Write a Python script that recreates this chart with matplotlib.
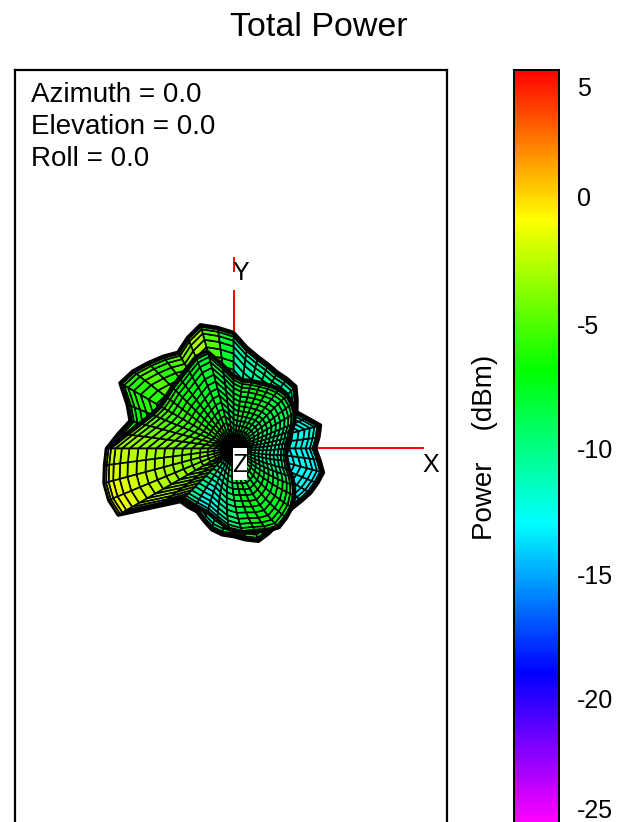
import numpy as np
import matplotlib
matplotlib.use("Agg")
import matplotlib.pyplot as plt
from matplotlib.collections import PolyCollection
from matplotlib.colors import LinearSegmentedColormap, Normalize
from matplotlib.patches import Rectangle

plt.rcParams['font.family'] = ['Liberation Sans', 'DejaVu Sans']

W, H = 617, 822
TITLE = "Total Power"
ANNOT = ["Azimuth = 0.0", "Elevation = 0.0", "Roll = 0.0"]
CB_LABEL = "Power    (dBm)"
TICK_LABELS = ["5", "0", "-5", "-10", "-15", "-20", "-25"]
TICK_POS = [4.52, 0.1, -5.04, -10.0, -15.0, -20.0, -24.36]

# colour scale: value stops and colours
STOPS = [-25.0, -19.0, -13.0, -6.9, -0.84, 5.16]
STOP_COLORS = ["#ff00ff", "#0000ff", "#00ffff", "#00ff00", "#ffff00", "#ff0000"]
VMIN, VMAX = -24.92, 5.16

# pattern read every 7.5 degrees of azimuth (48 spokes)
BACK_R = [82, 86, 90, 80, 73, 80, 88, 88, 88, 91, 95, 102, 116, 122, 128, 120,
          111, 116, 121, 127, 131, 115, 107, 116, 127, 130, 134, 135, 133, 95,
          75, 74, 73, 78, 84, 87, 88, 92, 96, 92, 88, 84, 84, 86, 89, 91, 93, 87]
FRONT_R = [56, 59, 62, 67, 72, 75, 77, 76, 74, 72, 71, 70, 74, 86, 102, 100,
           94, 90, 88, 86, 86, 90, 98, 110, 127, 130, 134, 135, 133, 95,
           72, 70, 70, 75, 82, 86, 87, 90, 92, 88, 84, 78, 72, 66, 60, 56, 54, 55]
FRONT_OUT = [-11, -10.5, -10, -9.5, -9, -8.5, -8, -7.5, -7, -7, -7.5, -8, -8.5, -8.5, -8, -7.5,
             -7.5, -7, -6, -5.5, -5, -4.5, -4, -3, -2, -1.5, -1, -1, -1.5, -2,
             -11, -13, -13, -11, -9.5, -8, -7, -7, -7, -7, -7.5, -8, -9, -10, -11, -11.5, -12, -11.5]
FRONT_IN = [-10, -10, -9.5, -9, -9, -9, -9, -9, -9, -9, -9, -9, -9, -8.5, -8, -8,
            -7.5, -7, -6.5, -6, -6, -5.5, -5, -5, -4.5, -4.5, -5, -5, -6, -7,
            -9, -10, -10, -10, -9.5, -9, -8.5, -8.5, -9, -9, -9, -9, -9.5, -10, -10, -10, -10, -10]
BACK_VAL = [-12.5, -12.5, -12.5, -12, -12, -12, -11, -10.5, -10, -10.5, -11, -11, -8, -5, -3, -4,
            -5, -6, -5, -6, -6, -7, -6, -4, -2, -1.5, -1, -1, -1.5, -2,
            -13, -13.5, -13.5, -12, -10, -8, -7, -7, -7, -8, -9, -11, -13, -13, -13, -13, -13, -13]
FRONT_TWIST = [6, 4, 2, 0, 0, 0, 0, 0, 0, 0, 0, 0, 0, 0, 0, 0,
               0, 0, 0, 0, 0, 0, 0, 0, 0, 0, 0, 0, 0, 0,
               0, 4, 8, 10, 12, 14, 15, 15, 15, 15, 15, 15, 14, 12, 10, 10, 8, 8]
# ring positions as a share of each spoke's length
RINGS = [0.0, 0.03, 0.06, 0.10, 0.15, 0.20, 0.26, 0.33, 0.40, 0.47, 0.54, 0.61,
         0.68, 0.75, 0.82, 0.88, 0.93, 0.965, 0.985, 1.0]

fig = plt.figure(figsize=(W / 100, H / 100), dpi=100)
ax = fig.add_axes([15 / W, 0, (447 - 15) / W, 1 - 70 / H])
ax.set_xlim(15 - 233.5, 447 - 233.5)
ax.set_ylim(448.5 - 822, 448.5 - 70)
ax.set_xticks([]); ax.set_yticks([])
for s in ['top', 'left', 'right']:
    ax.spines[s].set_linewidth(1.6)
ax.spines['bottom'].set_visible(False)

cmap = LinearSegmentedColormap.from_list(
    "pw", [((v - STOPS[0]) / (STOPS[-1] - STOPS[0]), c) for v, c in zip(STOPS, STOP_COLORS)], N=512)
norm = Normalize(STOPS[0], STOPS[-1])

# axis lines
ax.plot([0, 0], [0, 190], color='red', lw=1.4, zorder=1)
ax.plot([0, 189], [0, 0], color='red', lw=1.4, zorder=1)


def mesh(radii, v_out, v_in, twist, z, lw, edge_lw):
    radii = np.asarray(radii, float)
    n = len(radii)
    fr = np.asarray(RINGS)
    az = np.deg2rad(np.arange(n) * 7.5)
    tw = np.deg2rad(np.asarray(twist, float))
    polys, vals = [], []

    def pt(j, k):
        kk = k % n
        a = az[kk] + tw[kk] * fr[j]
        return radii[kk] * fr[j] * np.cos(a), radii[kk] * fr[j] * np.sin(a)

    for j in range(len(fr) - 1):
        for k in range(n):
            polys.append([pt(j, k), pt(j, k + 1), pt(j + 1, k + 1), pt(j + 1, k)])
            f = 0.5 * (fr[j] + fr[j + 1])
            vals.append(v_in[k] + (v_out[k] - v_in[k]) * f)
    pc = PolyCollection(polys, array=np.array(vals), cmap=cmap, norm=norm,
                        edgecolors='black', linewidths=lw, zorder=z)
    ax.add_collection(pc)
    edge = np.array([pt(len(fr) - 1, k) for k in range(n + 1)])
    ax.plot(edge[:, 0], edge[:, 1], color='black', lw=edge_lw, zorder=z + 0.1, solid_joinstyle='round')


mesh(BACK_R, BACK_VAL, BACK_VAL, [0] * 48, 2, 1.2, 2.6)
mesh(FRONT_R, FRONT_OUT, FRONT_IN, FRONT_TWIST, 3, 1.2, 1.2)

ax.add_patch(Rectangle((-3, 158.5), 8, 18, facecolor='white', edgecolor='none', zorder=4))
ax.text(7.5, 175.5, "Y", fontsize=18, ha='center', va='center', zorder=5)
ax.text(189, -16.5, "X", fontsize=18, ha='left', va='center',
        bbox=dict(facecolor='white', edgecolor='none', pad=1.5), zorder=5)
ax.add_patch(Rectangle((-1, -32), 14, 32, facecolor='white', edgecolor='none', zorder=5))
ax.text(6, -16.5, "Z", fontsize=18, ha='center', va='center', zorder=6)

for i, t in enumerate(ANNOT):
    fig.text(31 / W, 1 - (95 + i * 32) / H, t, fontsize=20, va='center', ha='left')

fig.text(319 / W, 1 - 27 / H, TITLE, fontsize=24.5, ha='center', va='center')

cax = fig.add_axes([514 / W, 0, 45 / W, 1 - 70 / H])
levels = np.linspace(VMIN, VMAX, 400)
cax.pcolormesh([0, 1], np.r_[levels, VMAX + 0.01], levels[:, None], cmap=cmap, norm=norm, shading='flat')
cax.set_ylim(VMIN, VMAX)
cax.set_xticks([])
cax.yaxis.tick_right()
cax.set_yticks(TICK_POS, TICK_LABELS, fontsize=18)
cax.tick_params(axis='y', length=0, pad=13)
for s in cax.spines.values():
    s.set_linewidth(1.4)
cax.spines['bottom'].set_visible(False)
fig.text(485 / W, 1 - 447 / H, CB_LABEL, rotation=90, fontsize=20, ha='center', va='center')

fig.savefig("out.png", dpi=100)
